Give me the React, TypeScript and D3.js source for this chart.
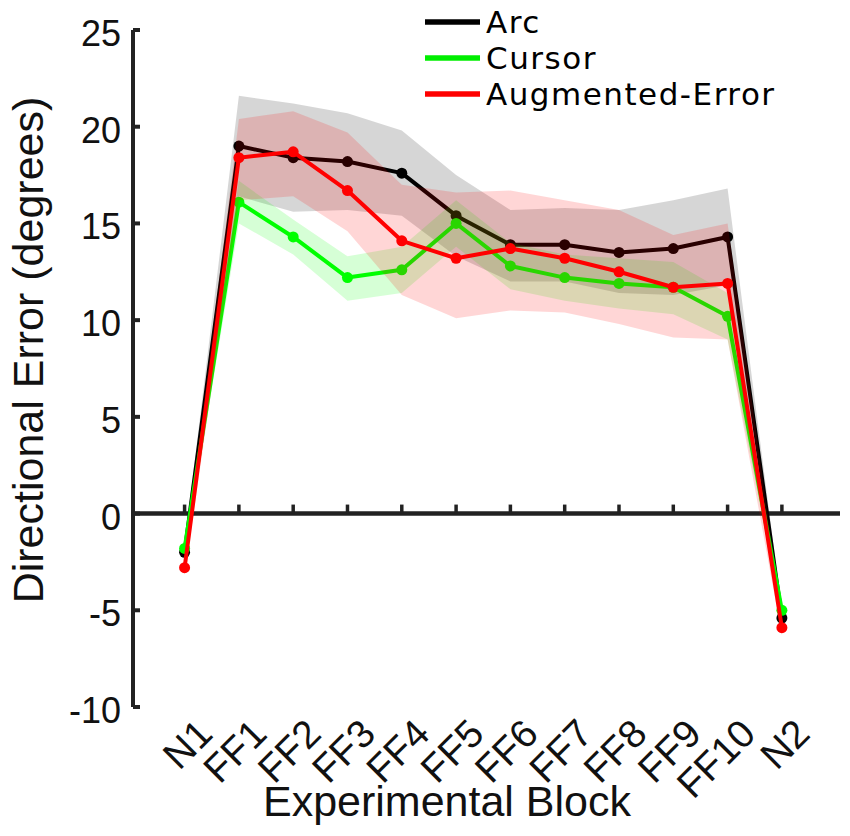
import React from 'react';
import * as d3 from 'd3';

// blocks on the x axis
const blocks = ['N1', 'FF1', 'FF2', 'FF3', 'FF4', 'FF5', 'FF6', 'FF7', 'FF8', 'FF9', 'FF10', 'N2'];

// Arc group
const arcMean = [-2.0, 19.0, 18.4, 18.2, 17.6, 15.4, 13.9, 13.9, 13.5, 13.7, 14.3, -5.4];
const arcUpper = [-1.6, 21.6, 21.2, 20.7, 19.8, 17.5, 15.7, 15.8, 15.7, 16.2, 16.8, -5.0];
const arcLower = [-2.4, 16.4, 15.6, 15.7, 15.4, 13.3, 12.0, 12.0, 11.4, 11.3, 11.8, -5.8];

// Cursor group
const cursorMean = [-1.8, 16.1, 14.3, 12.2, 12.6, 15.0, 12.8, 12.2, 11.9, 11.7, 10.2, -5.0];
const cursorUpper = [-1.4, 17.2, 15.2, 13.3, 13.8, 16.2, 14.0, 13.4, 13.2, 13.0, 11.4, -4.6];
const cursorLower = [-2.2, 15.0, 13.4, 11.0, 11.4, 13.8, 11.6, 11.0, 10.6, 10.3, 9.0, -5.4];

// Augmented-Error group
const aeMean = [-2.8, 18.4, 18.7, 16.7, 14.1, 13.2, 13.7, 13.2, 12.5, 11.7, 11.9, -5.9];
const aeUpper = [-2.4, 20.4, 20.8, 19.7, 17.0, 16.6, 16.7, 16.2, 15.7, 14.4, 15.0, -5.5];
const aeLower = [-3.2, 16.2, 16.4, 14.6, 11.3, 10.1, 10.5, 10.4, 9.8, 9.1, 9.0, -6.3];

const yTicks = [-10, -5, 0, 5, 10, 15, 20, 25];

type Series = {
  name: string;
  color: string;
  legendColor: string;
  mean: number[];
  upper: number[];
  lower: number[];
};

const series: Series[] = [
  { name: 'Arc', color: '#000000', legendColor: '#000000', mean: arcMean, upper: arcUpper, lower: arcLower },
  { name: 'Cursor', color: '#00ff00', legendColor: '#00ee00', mean: cursorMean, upper: cursorUpper, lower: cursorLower },
  { name: 'Augmented-Error', color: '#ff0000', legendColor: '#ff0000', mean: aeMean, upper: aeUpper, lower: aeLower },
];

const WIDTH = 850;
const HEIGHT = 836;
const FONT = '"Liberation Sans", Arial, sans-serif';

const ErrorChart: React.FC = () => {
  const svgRef = React.useRef<SVGSVGElement>(null);

  React.useEffect(() => {
    const xScale = d3.scaleLinear().domain([0.05, 13.07]).range([133, 840]);
    const yScale = d3.scaleLinear().domain([-10, 25]).range([707, 30]);
    const xPos = (i: number) => xScale(i + 1);

    const svg = d3.select(svgRef.current);
    svg.selectAll('*').remove();

    const axisColor = '#222';

    // y axis line + inward ticks
    svg
      .append('line')
      .attr('x1', xScale(0.05))
      .attr('x2', xScale(0.05))
      .attr('y1', yScale(25))
      .attr('y2', yScale(-10))
      .attr('stroke', axisColor)
      .attr('stroke-width', 4);
    svg
      .selectAll('.ytick')
      .data(yTicks)
      .enter()
      .append('line')
      .attr('x1', xScale(0.05))
      .attr('x2', xScale(0.05) + 7)
      .attr('y1', (d) => yScale(d))
      .attr('y2', (d) => yScale(d))
      .attr('stroke', axisColor)
      .attr('stroke-width', 4);
    svg
      .selectAll('.ylabel')
      .data(yTicks)
      .enter()
      .append('text')
      .attr('x', xScale(0.05) - 12)
      .attr('y', (d) => yScale(d))
      .attr('dy', 16)
      .attr('text-anchor', 'end')
      .attr('font-family', FONT)
      .attr('font-size', 36)
      .attr('fill', '#111')
      .text((d) => `${d}`);

    // x axis sits at y = 0
    svg
      .append('line')
      .attr('x1', xScale(0.05))
      .attr('x2', xScale(13.07))
      .attr('y1', yScale(0))
      .attr('y2', yScale(0))
      .attr('stroke', axisColor)
      .attr('stroke-width', 4.5);
    svg
      .selectAll('.xtick')
      .data(blocks)
      .enter()
      .append('line')
      .attr('x1', (d, i) => xPos(i))
      .attr('x2', (d, i) => xPos(i))
      .attr('y1', yScale(0))
      .attr('y2', yScale(0) - 9)
      .attr('stroke', axisColor)
      .attr('stroke-width', 3.5);
    svg
      .selectAll('.xlabel')
      .data(blocks)
      .enter()
      .append('text')
      .attr('transform', (d, i) => `translate(${xPos(i) + 30},${736}) rotate(-45)`)
      .attr('text-anchor', 'end')
      .attr('font-family', FONT)
      .attr('font-size', 39)
      .attr('fill', '#111')
      .text((d) => d);

    // axis titles
    svg
      .append('text')
      .attr('x', 447)
      .attr('y', 816)
      .attr('text-anchor', 'middle')
      .attr('font-family', FONT)
      .attr('font-size', 43)
      .attr('fill', '#111')
      .text('Experimental Block');
    svg
      .append('text')
      .attr('transform', 'translate(43,350) rotate(-90)')
      .attr('text-anchor', 'middle')
      .attr('font-family', FONT)
      .attr('font-size', 43)
      .attr('fill', '#111')
      .text('Directional Error (degrees)');

    // shaded band, then line, then markers, one series after another
    const line = d3
      .line<number>()
      .x((d, i) => xPos(i))
      .y((d) => yScale(d));

    series.forEach((s) => {
      const band = d3
        .area<number>()
        .x((d, i) => xPos(i))
        .y0((d, i) => yScale(s.lower[i]))
        .y1((d, i) => yScale(s.upper[i]));
      svg
        .append('path')
        .attr('d', band(s.mean))
        .attr('fill', s.color)
        .attr('fill-opacity', 0.16)
        .attr('stroke', 'none');
      svg
        .append('path')
        .attr('d', line(s.mean))
        .attr('fill', 'none')
        .attr('stroke', s.color)
        .attr('stroke-width', 4)
        .attr('stroke-linejoin', 'round');
      svg
        .append('g')
        .selectAll('circle')
        .data(s.mean)
        .enter()
        .append('circle')
        .attr('cx', (d, i) => xPos(i))
        .attr('cy', (d) => yScale(d))
        .attr('r', 5.5)
        .attr('fill', s.color);
    });

    // legend
    const legend = svg.append('g').attr('transform', 'translate(425,22)');
    series.forEach((s, i) => {
      legend
        .append('line')
        .attr('x1', 0)
        .attr('x2', 55)
        .attr('y1', i * 36)
        .attr('y2', i * 36)
        .attr('stroke', s.legendColor)
        .attr('stroke-width', 5.5);
      legend
        .append('text')
        .attr('x', 61)
        .attr('y', i * 36)
        .attr('dy', 11)
        .attr('font-family', '"DejaVu Sans", sans-serif')
        .attr('font-size', 31)
        .attr('letter-spacing', 1.5)
        .attr('fill', '#000')
        .text(s.name);
    });
  }, []);

  return (
    <svg
      ref={svgRef}
      width={WIDTH}
      height={HEIGHT}
      style={{ position: 'absolute', left: 0, top: 0, background: '#fff' }}
    />
  );
};

export default function App() {
  return <ErrorChart />;
}
